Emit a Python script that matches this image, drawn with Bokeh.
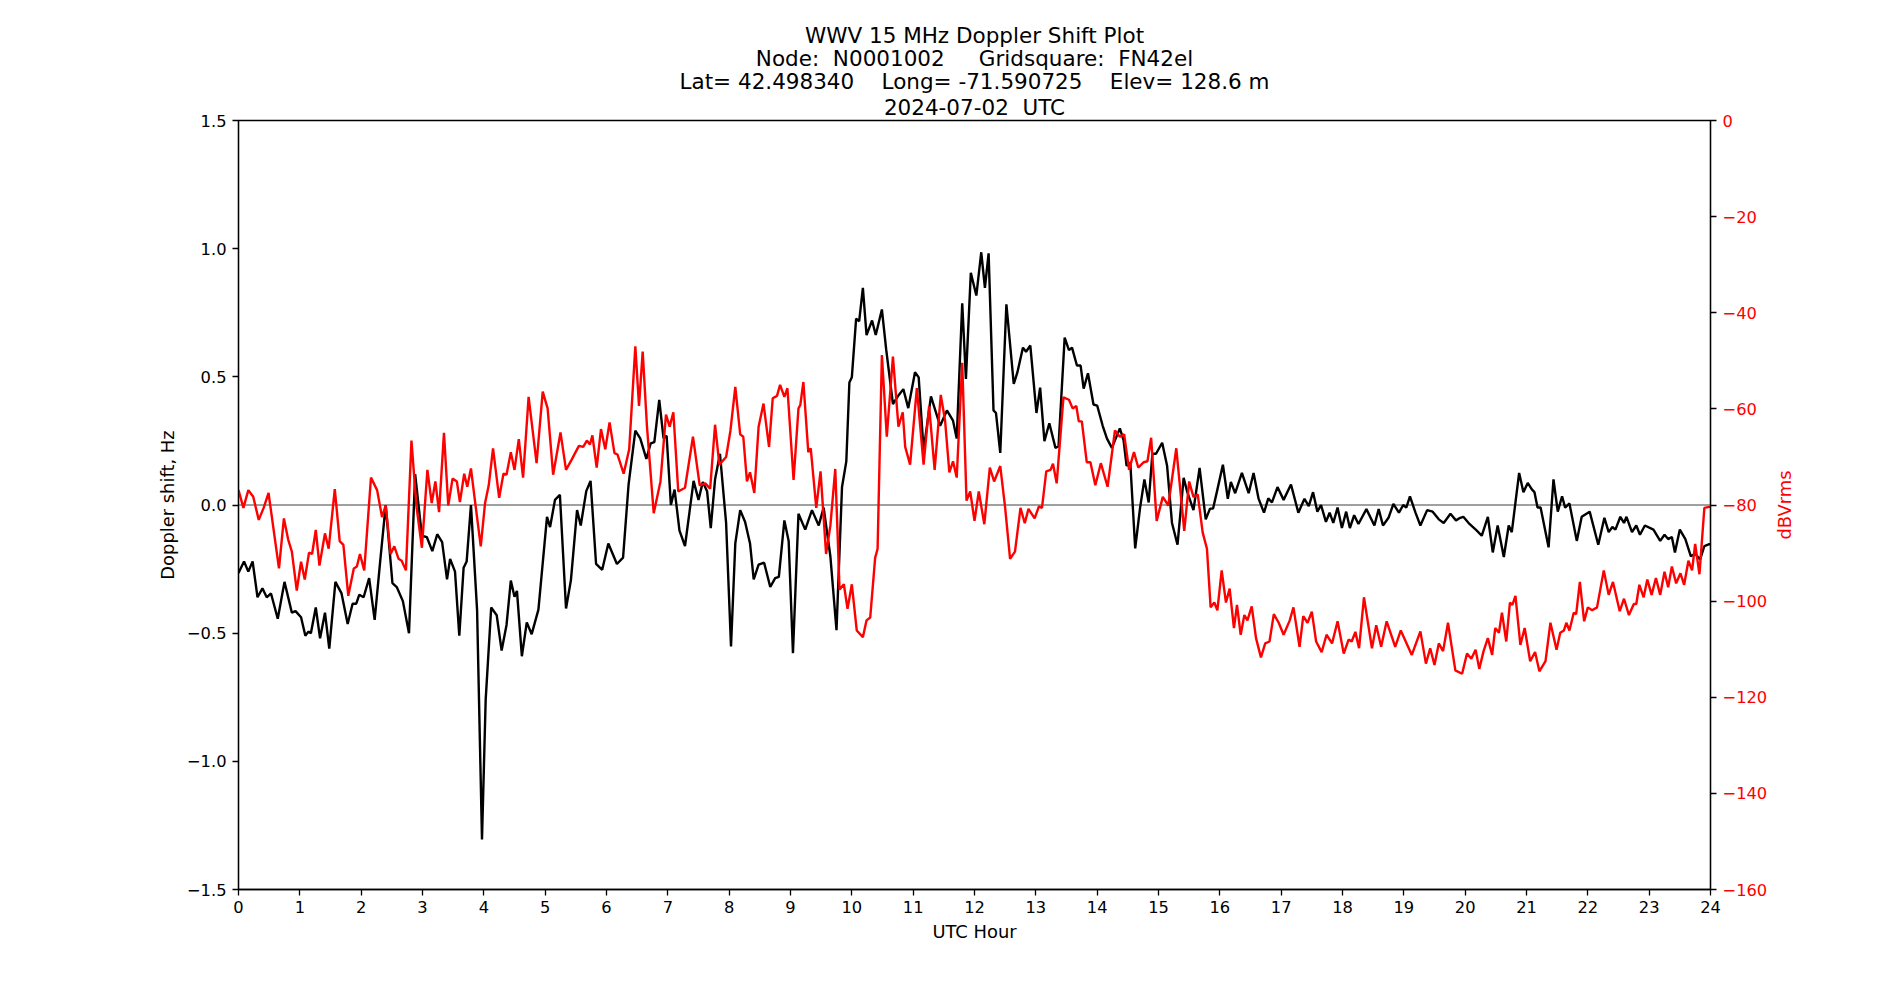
import math
from bokeh.plotting import figure
from bokeh.models import Range1d, LinearAxis, FixedTicker, Title, Span, Label
from bokeh.embed import file_html
from bokeh.resources import INLINE

# ---------------- data ----------------
doppler_hours = [
    0.00, 0.09, 0.16, 0.23, 0.31, 0.39, 0.46, 0.53, 0.64, 0.75, 0.87, 0.93, 1.02, 1.09, 1.14, 1.18,
    1.26, 1.33, 1.41, 1.48, 1.58, 1.68, 1.78, 1.86, 1.92, 1.97, 2.04, 2.13, 2.22, 2.31, 2.40, 2.51,
    2.58, 2.68, 2.78, 2.88, 2.99, 3.07, 3.16, 3.24, 3.32, 3.40, 3.45, 3.53, 3.60, 3.67, 3.72, 3.79,
    3.89, 3.97, 4.03, 4.12, 4.21, 4.29, 4.37, 4.44, 4.50, 4.54, 4.62, 4.70, 4.78, 4.89, 5.03, 5.08,
    5.16, 5.24, 5.34, 5.42, 5.52, 5.58, 5.67, 5.74, 5.83, 5.93, 6.03, 6.17, 6.27, 6.36, 6.47, 6.55,
    6.65, 6.72, 6.78, 6.86, 6.93, 6.98, 7.05, 7.11, 7.19, 7.28, 7.42, 7.50, 7.57, 7.64, 7.70, 7.77,
    7.85, 7.95, 8.03, 8.10, 8.18, 8.26, 8.34, 8.40, 8.48, 8.57, 8.67, 8.75, 8.81, 8.90, 8.97, 9.04,
    9.13, 9.24, 9.35, 9.46, 9.54, 9.65, 9.75, 9.84, 9.91, 9.96, 10.00, 10.07, 10.12, 10.18, 10.24, 10.33,
    10.39, 10.49, 10.56, 10.67, 10.75, 10.84, 10.92, 11.03, 11.09, 11.17, 11.29, 11.44, 11.55, 11.65, 11.71, 11.80,
    11.86, 11.94, 12.03, 12.11, 12.17, 12.23, 12.31, 12.35, 12.42, 12.52, 12.64, 12.70, 12.79, 12.84, 12.91, 13.01,
    13.07, 13.14, 13.22, 13.32, 13.37, 13.47, 13.54, 13.59, 13.67, 13.73, 13.78, 13.85, 13.94, 14.00, 14.09, 14.16,
    14.24, 14.37, 14.43, 14.48, 14.54, 14.62, 14.70, 14.77, 14.84, 14.90, 14.96, 15.06, 15.14, 15.22, 15.31, 15.41,
    15.47, 15.57, 15.67, 15.77, 15.84, 15.89, 15.96, 16.05, 16.13, 16.18, 16.25, 16.36, 16.47, 16.55, 16.63, 16.72,
    16.79, 16.85, 16.94, 17.04, 17.16, 17.28, 17.38, 17.45, 17.52, 17.59, 17.65, 17.73, 17.79, 17.85, 17.92, 17.99,
    18.06, 18.12, 18.19, 18.26, 18.39, 18.52, 18.59, 18.66, 18.75, 18.83, 18.92, 18.99, 19.04, 19.10, 19.19, 19.27,
    19.38, 19.47, 19.57, 19.65, 19.76, 19.85, 19.92, 19.97, 20.07, 20.19, 20.27, 20.37, 20.45, 20.53, 20.63, 20.71,
    20.76, 20.82, 20.88, 20.95, 21.02, 21.09, 21.13, 21.18, 21.23, 21.36, 21.44, 21.51, 21.58, 21.63, 21.70, 21.82,
    21.90, 22.03, 22.17, 22.27, 22.34, 22.40, 22.45, 22.53, 22.59, 22.63, 22.72, 22.79, 22.85, 22.93, 23.07, 23.18,
    23.25, 23.31, 23.37, 23.42, 23.50, 23.59, 23.68, 23.75, 23.83, 23.90, 23.98, 24.00,
]
doppler_hz = [
    -0.265, -0.22, -0.26, -0.22, -0.36, -0.325, -0.36, -0.345, -0.444, -0.30, -0.42, -0.414, -0.438, -0.51, -0.494, -0.50,
    -0.40, -0.52, -0.42, -0.56, -0.30, -0.345, -0.464, -0.385, -0.385, -0.35, -0.36, -0.285, -0.448, -0.22, 0.0, -0.305,
    -0.32, -0.375, -0.50, 0.12, -0.12, -0.125, -0.18, -0.114, -0.145, -0.29, -0.21, -0.26, -0.51, -0.245, -0.22, 0.0,
    -0.41, -1.305, -0.76, -0.40, -0.43, -0.568, -0.468, -0.295, -0.358, -0.335, -0.59, -0.458, -0.504, -0.408, -0.046, -0.086,
    0.02, 0.04, -0.404, -0.293, -0.02, -0.08, 0.054, 0.094, -0.23, -0.253, -0.15, -0.23, -0.205, 0.08, 0.29, 0.26,
    0.18, 0.24, 0.245, 0.41, 0.26, 0.27, 0.0, 0.06, -0.10, -0.16, 0.094, 0.02, 0.09, 0.054, -0.09, 0.10,
    0.20, -0.07, -0.552, -0.15, -0.02, -0.066, -0.15, -0.29, -0.233, -0.225, -0.32, -0.285, -0.28, -0.06, -0.14, -0.578,
    -0.034, -0.096, -0.02, -0.08, -0.01, -0.20, -0.488, 0.07, 0.17, 0.478, 0.498, 0.727, 0.717, 0.847, 0.663, 0.72,
    0.663, 0.763, 0.607, 0.394, 0.424, 0.452, 0.378, 0.518, 0.498, 0.213, 0.424, 0.309, 0.369, 0.329, 0.259, 0.787,
    0.492, 0.906, 0.817, 0.986, 0.847, 0.982, 0.369, 0.359, 0.203, 0.783, 0.472, 0.518, 0.614, 0.598, 0.622, 0.359,
    0.458, 0.249, 0.319, 0.223, 0.229, 0.653, 0.604, 0.614, 0.544, 0.544, 0.454, 0.514, 0.392, 0.388, 0.309, 0.259,
    0.223, 0.299, 0.253, 0.153, 0.165, -0.169, -0.01, 0.10, 0.01, 0.20, 0.20, 0.243, 0.153, -0.07, -0.155, 0.106,
    0.05, -0.02, 0.145, -0.056, -0.014, -0.014, 0.06, 0.157, 0.024, 0.09, 0.046, 0.125, 0.046, 0.125, 0.026, -0.03,
    0.026, 0.01, 0.07, 0.02, 0.08, -0.03, 0.024, -0.004, 0.05, -0.026, 0.0, -0.066, -0.03, -0.07, -0.01, -0.09,
    -0.026, -0.09, -0.04, -0.074, -0.016, -0.08, -0.016, -0.08, -0.05, 0.004, -0.03, 0.0, -0.01, 0.034, -0.03, -0.08,
    -0.02, -0.026, -0.056, -0.07, -0.034, -0.06, -0.05, -0.046, -0.074, -0.10, -0.12, -0.046, -0.185, -0.08, -0.203, -0.08,
    -0.106, 0.01, 0.125, 0.05, 0.086, 0.06, 0.05, -0.01, -0.01, -0.165, 0.10, -0.026, 0.034, -0.01, 0.006, -0.14,
    -0.046, -0.026, -0.155, -0.05, -0.106, -0.086, -0.096, -0.046, -0.07, -0.046, -0.106, -0.08, -0.116, -0.08, -0.096, -0.14,
    -0.116, -0.133, -0.125, -0.185, -0.096, -0.133, -0.20, -0.19, -0.213, -0.16, -0.153, -0.153,
]

power_hours = [
    0.00, 0.08, 0.16, 0.24, 0.33, 0.41, 0.49, 0.57, 0.66, 0.74, 0.81, 0.87, 0.95, 1.02, 1.08, 1.15,
    1.20, 1.26, 1.32, 1.41, 1.47, 1.57, 1.65, 1.71, 1.79, 1.88, 1.93, 1.98, 2.05, 2.16, 2.26, 2.34,
    2.40, 2.48, 2.54, 2.61, 2.66, 2.73, 2.82, 2.90, 2.99, 3.08, 3.15, 3.21, 3.27, 3.35, 3.42, 3.49,
    3.56, 3.61, 3.68, 3.73, 3.79, 3.86, 3.95, 4.02, 4.08, 4.15, 4.25, 4.32, 4.37, 4.44, 4.50, 4.57,
    4.64, 4.73, 4.86, 4.96, 5.04, 5.13, 5.25, 5.34, 5.43, 5.55, 5.62, 5.68, 5.73, 5.77, 5.84, 5.91,
    5.98, 6.05, 6.13, 6.18, 6.28, 6.37, 6.47, 6.53, 6.59, 6.66, 6.77, 6.88, 6.97, 7.03, 7.09, 7.17,
    7.28, 7.41, 7.52, 7.61, 7.69, 7.77, 7.84, 7.95, 8.02, 8.10, 8.18, 8.23, 8.29, 8.34, 8.41, 8.48,
    8.56, 8.65, 8.71, 8.78, 8.83, 8.90, 8.95, 9.05, 9.13, 9.16, 9.21, 9.29, 9.33, 9.42, 9.49, 9.58,
    9.65, 9.73, 9.80, 9.87, 9.93, 10.00, 10.08, 10.18, 10.24, 10.30, 10.38, 10.42, 10.49, 10.57, 10.67, 10.76,
    10.83, 10.87, 10.95, 11.06, 11.17, 11.26, 11.35, 11.45, 11.52, 11.59, 11.65, 11.71, 11.80, 11.87, 11.93, 12.00,
    12.07, 12.16, 12.25, 12.32, 12.42, 12.50, 12.58, 12.66, 12.75, 12.82, 12.88, 12.98, 13.05, 13.10, 13.17, 13.24,
    13.28, 13.34, 13.45, 13.54, 13.60, 13.66, 13.70, 13.75, 13.83, 13.89, 13.97, 14.06, 14.17, 14.29, 14.37, 14.44,
    14.52, 14.60, 14.67, 14.76, 14.82, 14.88, 14.97, 15.07, 15.16, 15.29, 15.42, 15.50, 15.57, 15.64, 15.72, 15.79,
    15.85, 15.91, 15.96, 16.03, 16.10, 16.16, 16.23, 16.28, 16.34, 16.40, 16.45, 16.52, 16.59, 16.67, 16.74, 16.81,
    16.88, 16.96, 17.04, 17.14, 17.20, 17.30, 17.36, 17.43, 17.50, 17.57, 17.66, 17.74, 17.83, 17.92, 18.02, 18.10,
    18.15, 18.21, 18.27, 18.35, 18.48, 18.55, 18.63, 18.72, 18.86, 18.95, 19.13, 19.27, 19.36, 19.43, 19.50, 19.57,
    19.64, 19.72, 19.84, 19.95, 20.03, 20.10, 20.17, 20.23, 20.30, 20.37, 20.44, 20.49, 20.55, 20.60, 20.67, 20.73,
    20.77, 20.82, 20.90, 20.97, 21.06, 21.14, 21.21, 21.31, 21.39, 21.49, 21.55, 21.61, 21.65, 21.70, 21.77, 21.81,
    21.87, 21.94, 22.00, 22.07, 22.15, 22.26, 22.34, 22.41, 22.52, 22.59, 22.67, 22.75, 22.79, 22.84, 22.91, 22.97,
    23.04, 23.11, 23.18, 23.25, 23.31, 23.37, 23.44, 23.51, 23.57, 23.64, 23.70, 23.75, 23.82, 23.90, 23.98, 24.00,
]
power_dbv = [
    -76.9, -80.6, -76.9, -78.3, -83.1, -80.6, -77.5, -84.9, -93.2, -82.8, -87.2, -89.7, -97.8, -91.8, -95.5, -89.9,
    -90.2, -85.2, -92.6, -85.9, -89.1, -76.7, -87.5, -88.3, -98.9, -93.2, -92.8, -90.2, -93.6, -74.3, -76.9, -82.5,
    -80.1, -90.2, -88.6, -91.2, -91.6, -93.6, -66.6, -80.1, -88.9, -72.7, -79.6, -75.1, -81.5, -65.0, -80.1, -74.5,
    -75.1, -79.4, -73.5, -76.2, -72.4, -79.6, -88.6, -79.6, -75.9, -68.2, -78.5, -73.5, -73.7, -69.0, -72.7, -66.3,
    -74.3, -57.5, -71.3, -56.4, -59.9, -73.7, -64.9, -72.7, -70.6, -67.7, -67.9, -66.6, -67.4, -65.5, -72.2, -64.2,
    -68.4, -62.8, -69.2, -69.5, -73.5, -68.4, -47.0, -59.4, -48.1, -63.7, -81.7, -75.1, -61.2, -63.7, -60.7, -77.2,
    -76.4, -65.8, -75.9, -75.5, -76.6, -63.3, -71.6, -70.0, -64.6, -55.4, -65.3, -65.8, -75.1, -73.2, -77.5, -63.7,
    -58.9, -67.9, -57.8, -57.3, -55.0, -57.5, -55.7, -74.8, -59.9, -59.2, -54.4, -69.0, -68.2, -80.6, -73.0, -90.2,
    -84.3, -72.5, -97.6, -96.5, -101.6, -96.5, -106.1, -107.5, -104.0, -103.4, -91.0, -89.1, -48.8, -65.8, -49.1, -63.7,
    -60.7, -67.9, -71.6, -55.7, -71.6, -59.4, -72.7, -57.1, -62.4, -73.2, -70.9, -74.3, -50.4, -79.1, -77.2, -83.3,
    -77.2, -84.0, -72.2, -75.1, -71.9, -80.6, -91.2, -89.7, -80.6, -83.8, -80.8, -82.8, -80.3, -80.6, -73.0, -72.7,
    -71.4, -75.5, -57.6, -58.1, -59.9, -59.4, -62.6, -62.6, -71.1, -71.1, -75.9, -71.3, -76.2, -64.5, -65.8, -65.3,
    -72.7, -69.0, -72.2, -71.1, -70.9, -66.0, -83.3, -78.3, -80.1, -68.2, -85.4, -75.1, -78.3, -77.8, -85.7, -89.1,
    -101.3, -100.3, -101.9, -93.6, -100.3, -97.4, -105.6, -100.8, -107.0, -102.9, -104.0, -101.1, -107.7, -111.7, -108.8, -108.4,
    -102.7, -104.5, -107.0, -104.0, -101.3, -109.5, -103.1, -104.5, -102.2, -108.4, -110.6, -107.0, -108.8, -104.2, -110.9, -108.0,
    -108.4, -106.4, -109.8, -99.2, -109.8, -105.0, -109.5, -104.2, -109.5, -106.1, -111.2, -106.3, -113.0, -109.8, -113.3, -108.8,
    -110.4, -104.5, -114.4, -115.1, -110.9, -112.0, -110.1, -114.1, -110.4, -107.7, -111.2, -105.6, -106.6, -102.4, -108.4, -100.3,
    -100.8, -98.9, -109.1, -105.6, -112.5, -110.6, -114.6, -112.5, -104.5, -110.1, -106.6, -106.1, -104.5, -106.1, -102.4, -102.7,
    -96.0, -104.2, -101.3, -101.9, -101.3, -93.6, -98.7, -96.0, -102.1, -99.5, -102.9, -100.6, -100.6, -96.6, -99.2, -95.5,
    -98.7, -95.2, -98.7, -93.9, -97.1, -92.8, -96.3, -94.2, -96.6, -91.6, -93.6, -88.1, -94.4, -80.6, -80.4, -80.4,
]

x_ticks = list(range(0, 25))
y_ticks = [-1.5, -1.0, -0.5, 0.0, 0.5, 1.0, 1.5]
y2_ticks = [0, -20, -40, -60, -80, -100, -120, -140, -160]

title_lines = [
    "WWV 15 MHz Doppler Shift Plot",
    "Node:  N0001002     Gridsquare:  FN42el",
    "Lat= 42.498340    Long= -71.590725    Elev= 128.6 m",
    "2024-07-02  UTC",
]
right_label = "dBVrms"

FONT = "DejaVu Sans"
MINUS = "\u2212"
TICK_PX = "16.3px"
LABEL_PX = "17.9px"
TITLE_PX = "21.5px"


def fmt(v, nd):
    s = f"{abs(v):.{nd}f}"
    return (MINUS + s) if v < 0 else s


def keep_spaces(s):
    # keep runs of spaces visible in SVG text
    return s.replace(" ", "\u00a0")


p = figure(
    width=1900, height=1000, output_backend="svg", toolbar_location=None,
    x_range=Range1d(0, 24), y_range=Range1d(-1.5, 1.5),
    min_border_left=238, min_border_right=190, min_border_top=120, min_border_bottom=111,
    background_fill_color="white", border_fill_color="white",
)
p.extra_y_ranges = {"db": Range1d(-160, 0)}
p.xgrid.visible = False
p.ygrid.visible = False
p.outline_line_color = "black"
p.outline_line_width = 1.3
p.outline_line_alpha = 1

# titles: first added sits closest to the plot
for i, line in enumerate(reversed(title_lines)):
    p.add_layout(Title(text=keep_spaces(line), align="center", text_font=FONT, text_font_size=TITLE_PX,
                       text_font_style="normal", text_color="black",
                       standoff=(1.5 if i == 0 else -4)), "above")


def style_axis(ax, color="black"):
    ax.major_tick_out = 6
    ax.major_tick_in = 0
    ax.minor_tick_out = 0
    ax.minor_tick_in = 0
    ax.major_label_text_font = FONT
    ax.major_label_text_font_size = TICK_PX
    ax.major_label_text_color = color
    ax.axis_label_text_font = FONT
    ax.axis_label_text_font_size = LABEL_PX
    ax.axis_label_text_font_style = "normal"
    ax.axis_label_text_color = color
    ax.axis_line_color = "black"
    ax.axis_line_width = 1.3
    ax.major_tick_line_color = "black"
    ax.major_tick_line_width = 1.3
    ax.major_label_standoff = 6


xa = p.xaxis[0]
style_axis(xa)
xa.ticker = FixedTicker(ticks=x_ticks)
xa.axis_label = "UTC Hour"
xa.major_label_standoff = 5
xa.axis_label_standoff = 5

ya = p.yaxis[0]
style_axis(ya)
ya.ticker = FixedTicker(ticks=y_ticks)
ya.major_label_overrides = {v: fmt(v, 1) for v in y_ticks}
ya.axis_label = "Doppler shift, Hz"
ya.axis_label_standoff = 6

ya2 = LinearAxis(y_range_name="db")
style_axis(ya2, color="red")
ya2.ticker = FixedTicker(ticks=y2_ticks)
ya2.major_label_overrides = {v: fmt(v, 0) for v in y2_ticks}
p.add_layout(ya2, "right")

# right-axis title in its own side panel, reading bottom-to-top, centred on the axis
p.add_layout(Label(x=13.5, x_units="screen", y=-80, y_range_name="db", text=right_label,
                   angle=math.pi / 2, text_align="center", text_baseline="middle",
                   text_color="red", text_font=FONT, text_font_size=LABEL_PX), "right")

# zero line
p.add_layout(Span(location=0, dimension="width", line_color="gray", line_width=1.3, level="underlay"))

p.line(doppler_hours, doppler_hz, line_color="black", line_width=2.4)
p.line(power_hours, power_dbv, line_color="red", line_width=2.4, y_range_name="db")

open("out.html", "w").write(file_html(p, INLINE))
